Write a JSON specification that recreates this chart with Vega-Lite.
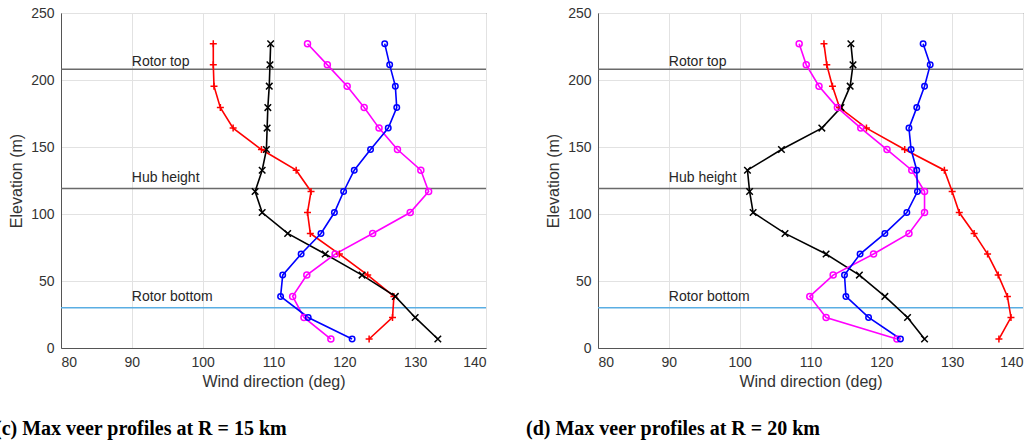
{
  "$schema": "https://vega.github.io/schema/vega-lite/v6.json",
  "background": "white",
  "padding": {"left": -6, "top": 5, "right": 0, "bottom": 0},
  "bounds": "flush",
  "spacing": 112,
  "config": {
    "font": "Liberation Sans",
    "view": {"stroke": "#555555", "strokeWidth": 1},
    "axis": {
      "grid": true,
      "gridColor": "#e2e2e2",
      "domainColor": "#555555",
      "ticks": false,
      "labelFont": "Liberation Sans",
      "labelFontSize": 14,
      "labelColor": "#333333",
      "labelPadding": 7,
      "labelOverlap": false,
      "titleFont": "Liberation Sans",
      "titleFontSize": 16,
      "titleFontWeight": "normal",
      "titleColor": "#333333"
    },
    "axisX": {"titlePadding": 4},
    "axisY": {"titlePadding": 6}
  },
  "datasets": {
    "profiles": [
      {"panel": "c", "series": "s1", "elev": 6.7, "dir": 123.5},
      {"panel": "c", "series": "s1", "elev": 22.8, "dir": 126.8},
      {"panel": "c", "series": "s1", "elev": 38.5, "dir": 127.0},
      {"panel": "c", "series": "s1", "elev": 54.4, "dir": 123.3},
      {"panel": "c", "series": "s1", "elev": 70.1, "dir": 119.3},
      {"panel": "c", "series": "s1", "elev": 85.5, "dir": 115.2},
      {"panel": "c", "series": "s1", "elev": 101.1, "dir": 114.8},
      {"panel": "c", "series": "s1", "elev": 116.8, "dir": 115.3},
      {"panel": "c", "series": "s1", "elev": 132.7, "dir": 113.2},
      {"panel": "c", "series": "s1", "elev": 148.1, "dir": 108.3},
      {"panel": "c", "series": "s1", "elev": 164.1, "dir": 104.3},
      {"panel": "c", "series": "s1", "elev": 179.4, "dir": 102.5},
      {"panel": "c", "series": "s1", "elev": 195.4, "dir": 101.6},
      {"panel": "c", "series": "s1", "elev": 211.3, "dir": 101.5},
      {"panel": "c", "series": "s1", "elev": 227.1, "dir": 101.5},

      {"panel": "c", "series": "s2", "elev": 6.7, "dir": 133.2},
      {"panel": "c", "series": "s2", "elev": 22.8, "dir": 130.0},
      {"panel": "c", "series": "s2", "elev": 38.5, "dir": 127.2},
      {"panel": "c", "series": "s2", "elev": 54.4, "dir": 122.5},
      {"panel": "c", "series": "s2", "elev": 70.1, "dir": 117.3},
      {"panel": "c", "series": "s2", "elev": 85.5, "dir": 112.0},
      {"panel": "c", "series": "s2", "elev": 101.1, "dir": 108.4},
      {"panel": "c", "series": "s2", "elev": 116.8, "dir": 107.4},
      {"panel": "c", "series": "s2", "elev": 132.7, "dir": 108.4},
      {"panel": "c", "series": "s2", "elev": 148.1, "dir": 109.0},
      {"panel": "c", "series": "s2", "elev": 164.1, "dir": 109.1},
      {"panel": "c", "series": "s2", "elev": 179.4, "dir": 109.2},
      {"panel": "c", "series": "s2", "elev": 195.4, "dir": 109.4},
      {"panel": "c", "series": "s2", "elev": 211.3, "dir": 109.5},
      {"panel": "c", "series": "s2", "elev": 227.1, "dir": 109.6},

      {"panel": "c", "series": "s3", "elev": 6.7, "dir": 118.1},
      {"panel": "c", "series": "s3", "elev": 22.8, "dir": 114.3},
      {"panel": "c", "series": "s3", "elev": 38.5, "dir": 112.7},
      {"panel": "c", "series": "s3", "elev": 54.4, "dir": 114.7},
      {"panel": "c", "series": "s3", "elev": 70.1, "dir": 118.7},
      {"panel": "c", "series": "s3", "elev": 85.5, "dir": 124.0},
      {"panel": "c", "series": "s3", "elev": 101.1, "dir": 129.3},
      {"panel": "c", "series": "s3", "elev": 116.8, "dir": 131.9},
      {"panel": "c", "series": "s3", "elev": 132.7, "dir": 130.8},
      {"panel": "c", "series": "s3", "elev": 148.1, "dir": 127.5},
      {"panel": "c", "series": "s3", "elev": 164.1, "dir": 124.9},
      {"panel": "c", "series": "s3", "elev": 179.4, "dir": 122.8},
      {"panel": "c", "series": "s3", "elev": 195.4, "dir": 120.4},
      {"panel": "c", "series": "s3", "elev": 211.3, "dir": 117.6},
      {"panel": "c", "series": "s3", "elev": 227.1, "dir": 114.8},

      {"panel": "c", "series": "s4", "elev": 6.7, "dir": 121.1},
      {"panel": "c", "series": "s4", "elev": 22.8, "dir": 114.9},
      {"panel": "c", "series": "s4", "elev": 38.5, "dir": 111.0},
      {"panel": "c", "series": "s4", "elev": 54.4, "dir": 111.3},
      {"panel": "c", "series": "s4", "elev": 70.1, "dir": 113.9},
      {"panel": "c", "series": "s4", "elev": 85.5, "dir": 116.7},
      {"panel": "c", "series": "s4", "elev": 101.1, "dir": 118.6},
      {"panel": "c", "series": "s4", "elev": 116.8, "dir": 119.9},
      {"panel": "c", "series": "s4", "elev": 132.7, "dir": 121.4},
      {"panel": "c", "series": "s4", "elev": 148.1, "dir": 123.7},
      {"panel": "c", "series": "s4", "elev": 164.1, "dir": 126.2},
      {"panel": "c", "series": "s4", "elev": 179.4, "dir": 127.4},
      {"panel": "c", "series": "s4", "elev": 195.4, "dir": 127.2},
      {"panel": "c", "series": "s4", "elev": 211.3, "dir": 126.4},
      {"panel": "c", "series": "s4", "elev": 227.1, "dir": 125.7},

      {"panel": "d", "series": "s1", "elev": 6.7, "dir": 136.6},
      {"panel": "d", "series": "s1", "elev": 22.8, "dir": 138.3},
      {"panel": "d", "series": "s1", "elev": 38.5, "dir": 137.8},
      {"panel": "d", "series": "s1", "elev": 54.4, "dir": 136.5},
      {"panel": "d", "series": "s1", "elev": 70.1, "dir": 135.0},
      {"panel": "d", "series": "s1", "elev": 85.5, "dir": 133.1},
      {"panel": "d", "series": "s1", "elev": 101.1, "dir": 131.0},
      {"panel": "d", "series": "s1", "elev": 116.8, "dir": 130.0},
      {"panel": "d", "series": "s1", "elev": 132.7, "dir": 128.9},
      {"panel": "d", "series": "s1", "elev": 148.1, "dir": 123.3},
      {"panel": "d", "series": "s1", "elev": 164.1, "dir": 117.9},
      {"panel": "d", "series": "s1", "elev": 179.4, "dir": 114.1},
      {"panel": "d", "series": "s1", "elev": 195.4, "dir": 113.1},
      {"panel": "d", "series": "s1", "elev": 211.3, "dir": 112.3},
      {"panel": "d", "series": "s1", "elev": 227.1, "dir": 111.9},

      {"panel": "d", "series": "s2", "elev": 6.7, "dir": 126.1},
      {"panel": "d", "series": "s2", "elev": 22.8, "dir": 123.7},
      {"panel": "d", "series": "s2", "elev": 38.5, "dir": 120.5},
      {"panel": "d", "series": "s2", "elev": 54.4, "dir": 116.9},
      {"panel": "d", "series": "s2", "elev": 70.1, "dir": 112.2},
      {"panel": "d", "series": "s2", "elev": 85.5, "dir": 106.4},
      {"panel": "d", "series": "s2", "elev": 101.1, "dir": 101.9},
      {"panel": "d", "series": "s2", "elev": 116.8, "dir": 101.4},
      {"panel": "d", "series": "s2", "elev": 132.7, "dir": 101.1},
      {"panel": "d", "series": "s2", "elev": 148.1, "dir": 105.9},
      {"panel": "d", "series": "s2", "elev": 164.1, "dir": 111.6},
      {"panel": "d", "series": "s2", "elev": 179.4, "dir": 114.3},
      {"panel": "d", "series": "s2", "elev": 195.4, "dir": 115.6},
      {"panel": "d", "series": "s2", "elev": 211.3, "dir": 116.0},
      {"panel": "d", "series": "s2", "elev": 227.1, "dir": 115.7},

      {"panel": "d", "series": "s3", "elev": 6.7, "dir": 122.2},
      {"panel": "d", "series": "s3", "elev": 22.8, "dir": 112.2},
      {"panel": "d", "series": "s3", "elev": 38.5, "dir": 109.9},
      {"panel": "d", "series": "s3", "elev": 54.4, "dir": 113.2},
      {"panel": "d", "series": "s3", "elev": 70.1, "dir": 118.9},
      {"panel": "d", "series": "s3", "elev": 85.5, "dir": 123.9},
      {"panel": "d", "series": "s3", "elev": 101.1, "dir": 126.1},
      {"panel": "d", "series": "s3", "elev": 116.8, "dir": 126.1},
      {"panel": "d", "series": "s3", "elev": 132.7, "dir": 124.3},
      {"panel": "d", "series": "s3", "elev": 148.1, "dir": 120.8},
      {"panel": "d", "series": "s3", "elev": 164.1, "dir": 117.1},
      {"panel": "d", "series": "s3", "elev": 179.4, "dir": 113.8},
      {"panel": "d", "series": "s3", "elev": 195.4, "dir": 111.2},
      {"panel": "d", "series": "s3", "elev": 211.3, "dir": 109.4},
      {"panel": "d", "series": "s3", "elev": 227.1, "dir": 108.4},

      {"panel": "d", "series": "s4", "elev": 6.7, "dir": 122.7},
      {"panel": "d", "series": "s4", "elev": 22.8, "dir": 118.2},
      {"panel": "d", "series": "s4", "elev": 38.5, "dir": 115.0},
      {"panel": "d", "series": "s4", "elev": 54.4, "dir": 114.8},
      {"panel": "d", "series": "s4", "elev": 70.1, "dir": 117.0},
      {"panel": "d", "series": "s4", "elev": 85.5, "dir": 120.5},
      {"panel": "d", "series": "s4", "elev": 101.1, "dir": 123.6},
      {"panel": "d", "series": "s4", "elev": 116.8, "dir": 125.1},
      {"panel": "d", "series": "s4", "elev": 132.7, "dir": 125.0},
      {"panel": "d", "series": "s4", "elev": 148.1, "dir": 124.2},
      {"panel": "d", "series": "s4", "elev": 164.1, "dir": 123.9},
      {"panel": "d", "series": "s4", "elev": 179.4, "dir": 125.0},
      {"panel": "d", "series": "s4", "elev": 195.4, "dir": 126.1},
      {"panel": "d", "series": "s4", "elev": 211.3, "dir": 126.9},
      {"panel": "d", "series": "s4", "elev": 227.1, "dir": 125.9}
    ],
    "refs": [
      {"name": "Rotor top", "elev": 208, "kind": "top"},
      {"name": "Hub height", "elev": 119, "kind": "hub"},
      {"name": "Rotor bottom", "elev": 30, "kind": "bottom"}
    ]
  },
  "hconcat": [
    {
      "width": 425,
      "height": 335,
      "title": {"text": "(c) Max veer profiles at R = 15 km", "orient": "bottom", "anchor": "start", "frame": "group", "dx": -66, "offset": 30, "baseline": "top", "font": "Liberation Serif", "fontSize": 20, "fontWeight": "bold", "color": "#000000"},
      "layer": [
        {
          "data": {"name": "refs"},
          "transform": [{"filter": "datum.kind != 'bottom'"}],
          "mark": {"type": "rule", "color": "#6a6a6a", "strokeWidth": 1.5},
          "encoding": {"y": {"field": "elev", "type": "quantitative", "scale": {"domain": [0, 250], "nice": false, "zero": false}, "axis": {"title": "Elevation (m)", "values": [0, 50, 100, 150, 200, 250]}}}
        },
        {
          "data": {"name": "refs"},
          "transform": [{"filter": "datum.kind == 'bottom'"}],
          "mark": {"type": "rule", "color": "#5aaee3", "strokeWidth": 1.5},
          "encoding": {"y": {"field": "elev", "type": "quantitative", "scale": {"domain": [0, 250], "nice": false, "zero": false}, "axis": {"title": "Elevation (m)", "values": [0, 50, 100, 150, 200, 250]}}}
        },
        {
          "data": {"name": "refs"},
          "transform": [{"filter": "datum.kind == 'top'"}],
          "mark": {"type": "text", "align": "left", "baseline": "alphabetic", "dy": -3, "fontSize": 14, "color": "#262626", "font": "Liberation Sans"},
          "encoding": {
            "x": {"datum": 90, "type": "quantitative", "scale": {"domain": [80, 140], "nice": false, "zero": false}, "axis": {"title": "Wind direction (deg)", "values": [80, 90, 100, 110, 120, 130, 140]}},
            "y": {"field": "elev", "type": "quantitative", "scale": {"domain": [0, 250], "nice": false, "zero": false}, "axis": {"title": "Elevation (m)", "values": [0, 50, 100, 150, 200, 250]}},
            "text": {"field": "name"}
          }
        },
        {
          "data": {"name": "refs"},
          "transform": [{"filter": "datum.kind != 'top'"}],
          "mark": {"type": "text", "align": "left", "baseline": "alphabetic", "dy": -7, "fontSize": 14, "color": "#262626", "font": "Liberation Sans"},
          "encoding": {
            "x": {"datum": 90, "type": "quantitative", "scale": {"domain": [80, 140], "nice": false, "zero": false}, "axis": {"title": "Wind direction (deg)", "values": [80, 90, 100, 110, 120, 130, 140]}},
            "y": {"field": "elev", "type": "quantitative", "scale": {"domain": [0, 250], "nice": false, "zero": false}, "axis": {"title": "Elevation (m)", "values": [0, 50, 100, 150, 200, 250]}},
            "text": {"field": "name"}
          }
        },
        {
          "data": {"name": "profiles"},
          "transform": [{"filter": "datum.panel == 'c'"}],
          "mark": {"type": "line", "strokeWidth": 1.6},
          "encoding": {
            "x": {"field": "dir", "type": "quantitative", "scale": {"domain": [80, 140], "nice": false, "zero": false}, "axis": {"title": "Wind direction (deg)", "values": [80, 90, 100, 110, 120, 130, 140]}},
            "y": {"field": "elev", "type": "quantitative", "scale": {"domain": [0, 250], "nice": false, "zero": false}, "axis": {"title": "Elevation (m)", "values": [0, 50, 100, 150, 200, 250]}},
            "color": {"field": "series", "type": "nominal", "scale": {"domain": ["s1", "s2", "s3", "s4"], "range": ["#ff0000", "#000000", "#ff00ff", "#0000ff"]}, "legend": null},
            "order": {"field": "elev", "type": "quantitative"}
          }
        },
        {
          "data": {"name": "profiles"},
          "transform": [{"filter": "datum.panel == 'c'"}],
          "mark": {"type": "point", "filled": false, "strokeWidth": 1.5, "opacity": 1},
          "encoding": {
            "x": {"field": "dir", "type": "quantitative", "scale": {"domain": [80, 140], "nice": false, "zero": false}, "axis": {"title": "Wind direction (deg)", "values": [80, 90, 100, 110, 120, 130, 140]}},
            "y": {"field": "elev", "type": "quantitative", "scale": {"domain": [0, 250], "nice": false, "zero": false}, "axis": {"title": "Elevation (m)", "values": [0, 50, 100, 150, 200, 250]}},
            "color": {"field": "series", "type": "nominal", "legend": null},
            "shape": {"field": "series", "type": "nominal", "scale": {"domain": ["s1", "s2", "s3", "s4"], "range": ["M-1,0H1M0,-1V1", "M-1,-1L1,1M-1,1L1,-1", "circle", "circle"]}, "legend": null},
            "size": {"field": "series", "type": "nominal", "scale": {"domain": ["s1", "s2", "s3", "s4"], "range": [49, 30, 30, 30]}, "legend": null}
          }
        }
      ]
    },
    {
      "width": 425,
      "height": 335,
      "title": {"text": "(d) Max veer profiles at R = 20 km", "orient": "bottom", "anchor": "start", "frame": "group", "dx": -72, "offset": 30, "baseline": "top", "font": "Liberation Serif", "fontSize": 20, "fontWeight": "bold", "color": "#000000"},
      "layer": [
        {
          "data": {"name": "refs"},
          "transform": [{"filter": "datum.kind != 'bottom'"}],
          "mark": {"type": "rule", "color": "#6a6a6a", "strokeWidth": 1.5},
          "encoding": {"y": {"field": "elev", "type": "quantitative", "scale": {"domain": [0, 250], "nice": false, "zero": false}, "axis": {"title": "Elevation (m)", "values": [0, 50, 100, 150, 200, 250]}}}
        },
        {
          "data": {"name": "refs"},
          "transform": [{"filter": "datum.kind == 'bottom'"}],
          "mark": {"type": "rule", "color": "#5aaee3", "strokeWidth": 1.5},
          "encoding": {"y": {"field": "elev", "type": "quantitative", "scale": {"domain": [0, 250], "nice": false, "zero": false}, "axis": {"title": "Elevation (m)", "values": [0, 50, 100, 150, 200, 250]}}}
        },
        {
          "data": {"name": "refs"},
          "transform": [{"filter": "datum.kind == 'top'"}],
          "mark": {"type": "text", "align": "left", "baseline": "alphabetic", "dy": -3, "fontSize": 14, "color": "#262626", "font": "Liberation Sans"},
          "encoding": {
            "x": {"datum": 90, "type": "quantitative", "scale": {"domain": [80, 140], "nice": false, "zero": false}, "axis": {"title": "Wind direction (deg)", "values": [80, 90, 100, 110, 120, 130, 140]}},
            "y": {"field": "elev", "type": "quantitative", "scale": {"domain": [0, 250], "nice": false, "zero": false}, "axis": {"title": "Elevation (m)", "values": [0, 50, 100, 150, 200, 250]}},
            "text": {"field": "name"}
          }
        },
        {
          "data": {"name": "refs"},
          "transform": [{"filter": "datum.kind != 'top'"}],
          "mark": {"type": "text", "align": "left", "baseline": "alphabetic", "dy": -7, "fontSize": 14, "color": "#262626", "font": "Liberation Sans"},
          "encoding": {
            "x": {"datum": 90, "type": "quantitative", "scale": {"domain": [80, 140], "nice": false, "zero": false}, "axis": {"title": "Wind direction (deg)", "values": [80, 90, 100, 110, 120, 130, 140]}},
            "y": {"field": "elev", "type": "quantitative", "scale": {"domain": [0, 250], "nice": false, "zero": false}, "axis": {"title": "Elevation (m)", "values": [0, 50, 100, 150, 200, 250]}},
            "text": {"field": "name"}
          }
        },
        {
          "data": {"name": "profiles"},
          "transform": [{"filter": "datum.panel == 'd'"}],
          "mark": {"type": "line", "strokeWidth": 1.6},
          "encoding": {
            "x": {"field": "dir", "type": "quantitative", "scale": {"domain": [80, 140], "nice": false, "zero": false}, "axis": {"title": "Wind direction (deg)", "values": [80, 90, 100, 110, 120, 130, 140]}},
            "y": {"field": "elev", "type": "quantitative", "scale": {"domain": [0, 250], "nice": false, "zero": false}, "axis": {"title": "Elevation (m)", "values": [0, 50, 100, 150, 200, 250]}},
            "color": {"field": "series", "type": "nominal", "scale": {"domain": ["s1", "s2", "s3", "s4"], "range": ["#ff0000", "#000000", "#ff00ff", "#0000ff"]}, "legend": null},
            "order": {"field": "elev", "type": "quantitative"}
          }
        },
        {
          "data": {"name": "profiles"},
          "transform": [{"filter": "datum.panel == 'd'"}],
          "mark": {"type": "point", "filled": false, "strokeWidth": 1.5, "opacity": 1},
          "encoding": {
            "x": {"field": "dir", "type": "quantitative", "scale": {"domain": [80, 140], "nice": false, "zero": false}, "axis": {"title": "Wind direction (deg)", "values": [80, 90, 100, 110, 120, 130, 140]}},
            "y": {"field": "elev", "type": "quantitative", "scale": {"domain": [0, 250], "nice": false, "zero": false}, "axis": {"title": "Elevation (m)", "values": [0, 50, 100, 150, 200, 250]}},
            "color": {"field": "series", "type": "nominal", "legend": null},
            "shape": {"field": "series", "type": "nominal", "scale": {"domain": ["s1", "s2", "s3", "s4"], "range": ["M-1,0H1M0,-1V1", "M-1,-1L1,1M-1,1L1,-1", "circle", "circle"]}, "legend": null},
            "size": {"field": "series", "type": "nominal", "scale": {"domain": ["s1", "s2", "s3", "s4"], "range": [49, 30, 30, 30]}, "legend": null}
          }
        }
      ]
    }
  ]
}
